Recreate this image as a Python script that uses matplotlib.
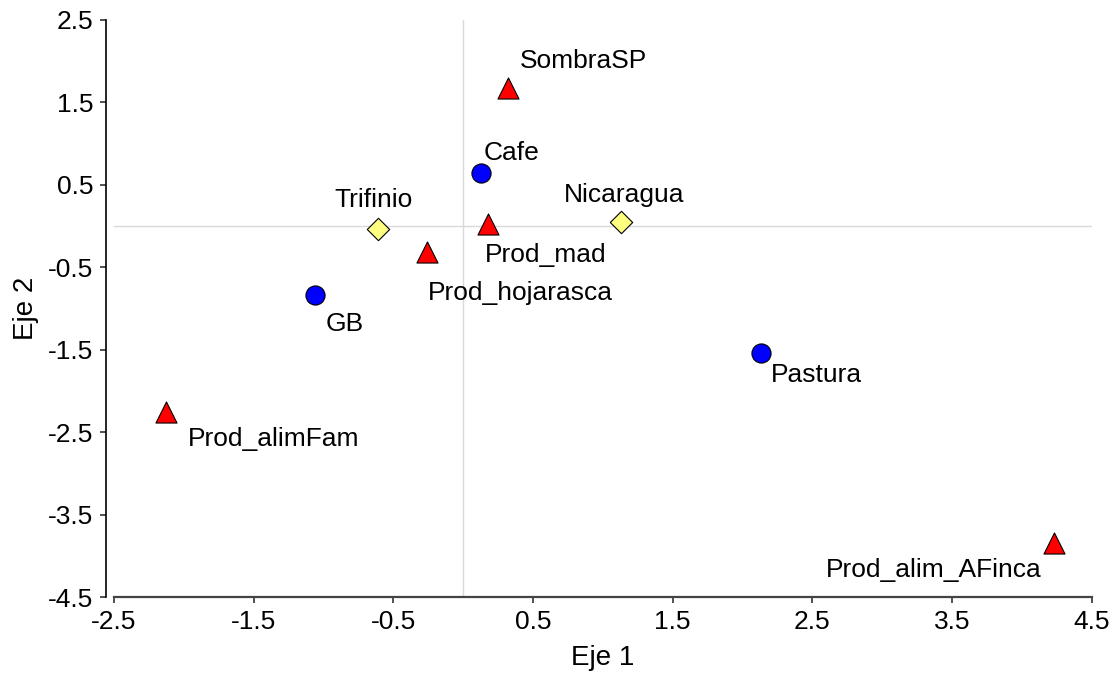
import matplotlib
matplotlib.use("Agg")
import matplotlib.pyplot as plt

plt.rcParams["font.family"] = ["Liberation Sans", "DejaVu Sans"]

# sites (circles), regions (diamonds), products (triangles)
usos = ["Cafe", "GB", "Pastura"]
usos_x = [0.13, -1.06, 2.13]
usos_y = [0.64, -0.84, -1.54]

regiones = ["Trifinio", "Nicaragua"]
reg_x = [-0.61, 1.13]
reg_y = [-0.03, 0.05]

productos = ["SombraSP", "Prod_mad", "Prod_hojarasca", "Prod_alimFam", "Prod_alim_AFinca"]
prod_x = [0.32, 0.18, -0.26, -2.13, 4.23]
prod_y = [1.67, 0.03, -0.31, -2.26, -3.85]

# label offsets (pixels) relative to each marker
offsets = {
    "SombraSP": (76, 27), "Cafe": (30, 20), "Trifinio": (-4, 29),
    "Nicaragua": (3, 27), "Prod_mad": (57, -31), "Prod_hojarasca": (94, -41),
    "GB": (30, -29), "Pastura": (56, -22), "Prod_alimFam": (108, -27),
    "Prod_alim_AFinca": (-120, -27),
}

fig = plt.figure(figsize=(11.14, 6.73), dpi=100)
ax = fig.add_axes([0.1023, 0.1129, 0.8777, 0.8574])

ax.axhline(0, color="#d9d9d9", lw=1, zorder=0)
ax.axvline(0, color="#d9d9d9", lw=1, zorder=0)

ax.scatter(usos_x, usos_y, s=190, marker="o", c="#0000ff", edgecolors="black", linewidths=0.8, zorder=3)
ax.scatter(reg_x, reg_y, s=130, marker="D", c="#ffff80", edgecolors="black", linewidths=0.8, zorder=3)
ax.scatter(prod_x, prod_y, s=230, marker="^", c="#ff0000", edgecolors="black", linewidths=0.8, zorder=3)

for names, xs, ys in [(usos, usos_x, usos_y), (regiones, reg_x, reg_y), (productos, prod_x, prod_y)]:
    for n, x, y in zip(names, xs, ys):
        ax.annotate(n, (x, y), xytext=offsets[n], textcoords="offset pixels",
                    ha="center", va="center", fontsize=19)

ax.set_xlim(-2.5, 4.5)
ax.set_ylim(-4.5, 2.5)
ax.set_xticks([-2.5, -1.5, -0.5, 0.5, 1.5, 2.5, 3.5, 4.5])
ax.set_yticks([-4.5, -3.5, -2.5, -1.5, -0.5, 0.5, 1.5, 2.5])
ax.set_xticklabels(["-2.5", "-1.5", "-0.5", "0.5", "1.5", "2.5", "3.5", "4.5"])
ax.set_yticklabels(["-4.5", "-3.5", "-2.5", "-1.5", "-0.5", "0.5", "1.5", "2.5"])
ax.tick_params(labelsize=19, length=4, width=1.2, color="#333333", pad=5)
ax.spines["top"].set_visible(False)
ax.spines["right"].set_visible(False)
ax.spines["left"].set_position(("outward", 6))
ax.spines["left"].set_linewidth(1.2)
ax.spines["bottom"].set_linewidth(1.6)
ax.spines["bottom"].set_color("#444444")
ax.set_xlabel("Eje 1", fontsize=20, labelpad=8)
ax.set_ylabel("Eje 2", fontsize=20, labelpad=6)

fig.savefig("out.png", dpi=100)
